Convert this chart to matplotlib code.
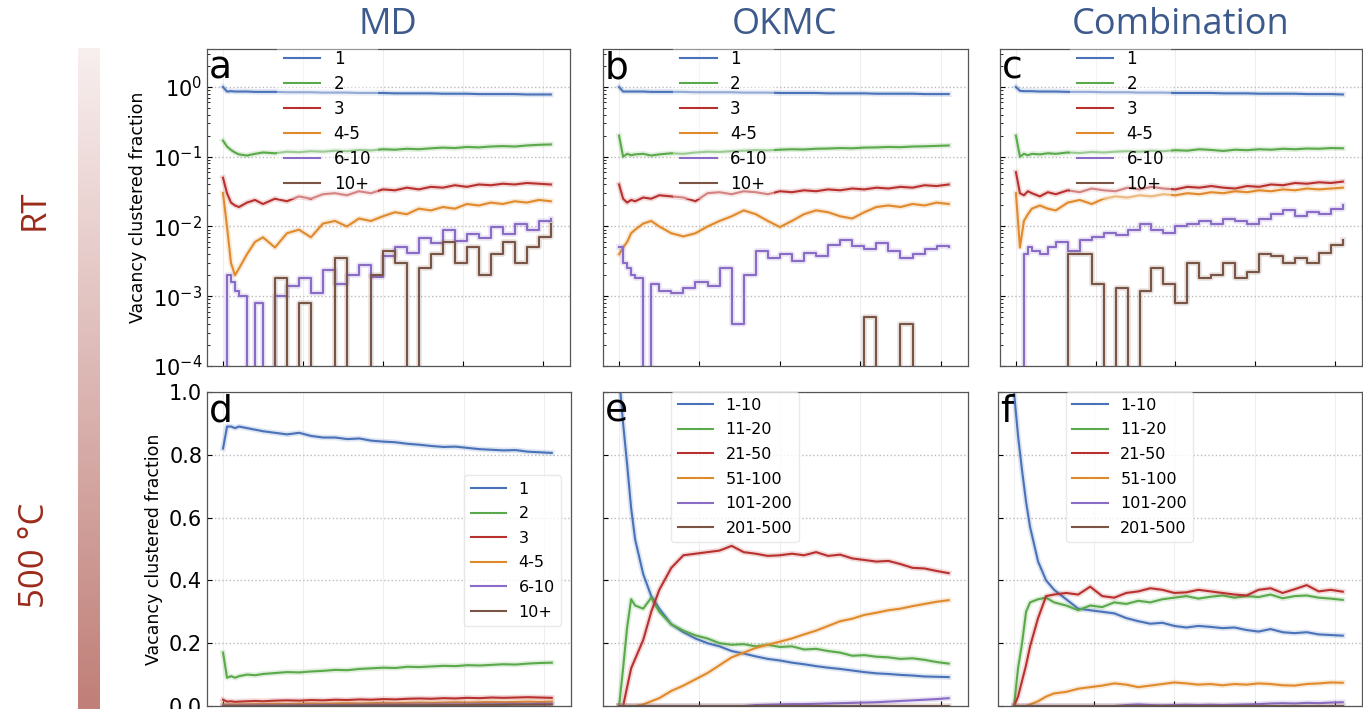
import numpy as np
import matplotlib
matplotlib.use('Agg')
import matplotlib.pyplot as plt
from matplotlib.colors import LinearSegmentedColormap

# time axis (arbitrary units, ticks hidden in the reference)
t = [0, 0.05, 0.1, 0.15, 0.2, 0.3, 0.4, 0.5,
     0.65, 0.8, 0.95, 1.1, 1.25, 1.4, 1.55, 1.7,
     1.85, 2.0, 2.15, 2.3, 2.45, 2.6, 2.75, 2.9,
     3.05, 3.2, 3.35, 3.5, 3.65, 3.8, 3.95, 4.1]

rt_labels = ['1', '2', '3', '4-5', '6-10', '10+']
hot_labels = ['1-10', '11-20', '21-50', '51-100', '101-200', '201-500']
colors = ['#4a72b8', '#5aa94a', '#b8312f', '#e08a2c', '#8a6cc7', '#7a5545']

# ---- a: MD, RT ----
a1 = [1.0, 0.86, 0.87, 0.86, 0.86, 0.86, 0.85, 0.85,
      0.85, 0.84, 0.84, 0.84, 0.83, 0.83, 0.83, 0.82,
      0.82, 0.82, 0.81, 0.81, 0.81, 0.81, 0.80, 0.80,
      0.80, 0.79, 0.79, 0.79, 0.79, 0.78, 0.78, 0.78]
a2 = [0.17, 0.14, 0.125, 0.115, 0.108, 0.104, 0.11, 0.115,
      0.112, 0.118, 0.116, 0.12, 0.118, 0.122, 0.12, 0.125,
      0.123, 0.128, 0.126, 0.13, 0.128, 0.132, 0.135, 0.133,
      0.138, 0.136, 0.14, 0.142, 0.14, 0.145, 0.148, 0.15]
a3 = [0.05, 0.03, 0.022, 0.02, 0.019, 0.022, 0.024, 0.021,
      0.025, 0.023, 0.027, 0.025, 0.029, 0.03, 0.028, 0.032,
      0.03, 0.034, 0.033, 0.036, 0.034, 0.037, 0.036, 0.039,
      0.037, 0.04, 0.039, 0.041, 0.04, 0.042, 0.041, 0.04]
a45 = [0.03, 0.01, 0.003, 0.002, 0.0025, 0.004, 0.006, 0.007,
       0.005, 0.008, 0.009, 0.007, 0.011, 0.012, 0.01, 0.013,
       0.012, 0.014, 0.016, 0.015, 0.018, 0.017, 0.019, 0.018,
       0.021, 0.02, 0.022, 0.021, 0.023, 0.022, 0.024, 0.023]
a610 = [0, 0.002, 0.0016, 0.0012, 0.001, 0, 0.0008, 0,
        0.001, 0.0014, 0.0018, 0.0011, 0.0024, 0.0015, 0.002, 0.0028,
        0.0019, 0.0038, 0.005, 0.0042, 0.0068, 0.0058, 0.0088, 0.0062,
        0.0079, 0.0068, 0.0098, 0.0078, 0.0108, 0.0088, 0.0118, 0.013]
a10p = [0, 0, 0, 0, 0, 0, 0, 0,
        0.0018, 0, 0.0008, 0, 0, 0.0035, 0, 0,
        0.002, 0.0045, 0.003, 0, 0.0025, 0.004, 0.006, 0.003,
        0.005, 0.002, 0.004, 0.006, 0.003, 0.005, 0.007, 0.011]

# ---- b: OKMC, RT ----
b1 = [1.0, 0.86, 0.86, 0.86, 0.86, 0.86, 0.85, 0.85,
      0.85, 0.85, 0.84, 0.84, 0.84, 0.84, 0.83, 0.83,
      0.83, 0.82, 0.82, 0.82, 0.82, 0.81, 0.81, 0.81,
      0.81, 0.80, 0.80, 0.80, 0.80, 0.79, 0.79, 0.79]
b2 = [0.2, 0.1, 0.11, 0.105, 0.108, 0.11, 0.104, 0.108,
      0.112, 0.11, 0.115, 0.118, 0.117, 0.12, 0.122, 0.124,
      0.123, 0.126, 0.128, 0.127, 0.13, 0.131, 0.133, 0.132,
      0.135, 0.136, 0.138, 0.137, 0.14, 0.141, 0.143, 0.145]
b3 = [0.04, 0.025, 0.022, 0.024, 0.023, 0.026, 0.025, 0.028,
      0.027, 0.026, 0.023, 0.03, 0.031, 0.029, 0.032, 0.031,
      0.029, 0.032, 0.031, 0.033, 0.032, 0.034, 0.033, 0.035,
      0.034, 0.036, 0.035, 0.037, 0.036, 0.039, 0.038, 0.04]
b45 = [0.004, 0.005, 0.006, 0.008, 0.009, 0.011, 0.012, 0.010,
       0.008, 0.0072, 0.008, 0.010, 0.012, 0.014, 0.017, 0.015,
       0.012, 0.0098, 0.012, 0.015, 0.017, 0.016, 0.014, 0.013,
       0.016, 0.019, 0.020, 0.019, 0.021, 0.020, 0.022, 0.021]
b610 = [0.005, 0.003, 0.0025, 0.002, 0.0018, 0, 0.0015, 0.0012,
        0.0011, 0.0013, 0.0016, 0.0014, 0.0025, 0.0004, 0.002, 0.0045,
        0.0035, 0.004, 0.0032, 0.0042, 0.0038, 0.0055, 0.0065, 0.0052,
        0.0048, 0.0058, 0.0045, 0.0035, 0.004, 0.0048, 0.0052, 0.005]
b10p = [0, 0, 0, 0, 0, 0, 0, 0,
        0, 0, 0, 0, 0, 0, 0, 0,
        0, 0, 0, 0, 0, 0, 0, 0,
        0.0005, 0, 0, 0.0004, 0, 0, 0, 0]

# ---- c: Combination, RT ----
c1 = [1.0, 0.88, 0.87, 0.87, 0.87, 0.86, 0.86, 0.86,
      0.85, 0.85, 0.85, 0.84, 0.84, 0.84, 0.83, 0.83,
      0.83, 0.82, 0.82, 0.82, 0.82, 0.81, 0.81, 0.81,
      0.80, 0.80, 0.80, 0.80, 0.79, 0.79, 0.79, 0.78]
c2 = [0.2, 0.1, 0.11, 0.105, 0.11, 0.108, 0.112, 0.11,
      0.115, 0.113, 0.117, 0.115, 0.118, 0.12, 0.118, 0.122,
      0.12, 0.124, 0.122, 0.128, 0.125, 0.121, 0.126, 0.124,
      0.128, 0.126, 0.13, 0.128, 0.131, 0.13, 0.133, 0.132]
c3 = [0.06, 0.03, 0.028, 0.032, 0.03, 0.027, 0.031, 0.029,
      0.033, 0.031, 0.035, 0.033, 0.032, 0.036, 0.034, 0.037,
      0.035, 0.034, 0.037, 0.036, 0.038, 0.036, 0.035, 0.038,
      0.037, 0.04, 0.039, 0.042, 0.041, 0.043, 0.042, 0.044]
c45 = [0.03, 0.005, 0.012, 0.015, 0.018, 0.02, 0.018, 0.017,
       0.022, 0.024, 0.021, 0.025, 0.027, 0.026, 0.028, 0.027,
       0.029, 0.028, 0.03, 0.029, 0.031, 0.03, 0.032, 0.031,
       0.033, 0.032, 0.034, 0.033, 0.035, 0.034, 0.035, 0.036]
c610 = [0, 0, 0.004, 0.005, 0.0045, 0.004, 0.005, 0.006,
        0.0045, 0.0065, 0.007, 0.008, 0.0075, 0.009, 0.011, 0.009,
        0.008, 0.01, 0.011, 0.012, 0.011, 0.013, 0.012, 0.011,
        0.013, 0.015, 0.017, 0.014, 0.016, 0.015, 0.018, 0.02]
c10p = [0, 0, 0, 0, 0, 0, 0, 0,
        0.004, 0.004, 0.0015, 0, 0.0013, 0, 0.0012, 0.0025,
        0.0015, 0.0008, 0.003, 0.0018, 0.002, 0.003, 0.0018, 0.0022,
        0.004, 0.0038, 0.003, 0.0035, 0.003, 0.0042, 0.0055, 0.0065]

# ---- d: MD, 500 C ----
d1 = [0.82, 0.89, 0.89, 0.885, 0.89, 0.885, 0.88, 0.875,
      0.87, 0.865, 0.87, 0.86, 0.855, 0.855, 0.85, 0.852,
      0.845, 0.842, 0.84, 0.835, 0.832, 0.828, 0.825, 0.826,
      0.822, 0.818, 0.816, 0.814, 0.815, 0.81, 0.808, 0.806]
d2 = [0.17, 0.09, 0.095, 0.09, 0.095, 0.1, 0.098, 0.102,
      0.105, 0.108, 0.107, 0.11, 0.112, 0.115, 0.114, 0.118,
      0.12, 0.122, 0.121, 0.125, 0.124, 0.126, 0.128, 0.127,
      0.13, 0.129, 0.131, 0.133, 0.132, 0.135, 0.137, 0.138]
d3 = [0.02, 0.014, 0.015, 0.013, 0.014, 0.015, 0.016, 0.015,
      0.017, 0.018, 0.017, 0.019, 0.018, 0.02, 0.019, 0.021,
      0.02, 0.022, 0.021, 0.023, 0.024, 0.023, 0.025, 0.024,
      0.026, 0.025, 0.027, 0.026, 0.027, 0.028, 0.027, 0.026]
d45 = [0.005, 0.004, 0.005, 0.004, 0.005, 0.005, 0.006, 0.006,
       0.007, 0.006, 0.007, 0.008, 0.007, 0.008, 0.009, 0.008,
       0.009, 0.01, 0.009, 0.01, 0.011, 0.01, 0.011, 0.012,
       0.011, 0.012, 0.013, 0.012, 0.013, 0.014, 0.013, 0.014]
d610 = [0.002, 0.001, 0.001, 0.001, 0.001, 0.0015, 0.0015, 0.002,
        0.002, 0.002, 0.0025, 0.0025, 0.003, 0.003, 0.003, 0.0035,
        0.0035, 0.004, 0.004, 0.004, 0.0045, 0.0045, 0.005, 0.005,
        0.005, 0.0055, 0.0055, 0.006, 0.006, 0.006, 0.0065, 0.0065]
d10p = [0, 0, 0, 0, 0, 0, 0, 0,
        0.0005, 0.0005, 0.001, 0.001, 0.001, 0.0015, 0.0015, 0.0015,
        0.002, 0.002, 0.002, 0.0025, 0.0025, 0.0025, 0.003, 0.003,
        0.003, 0.0035, 0.0035, 0.0035, 0.004, 0.004, 0.004, 0.0045]

# ---- e: OKMC, 500 C ----
e1 = [1.05, 0.9, 0.77, 0.63, 0.53, 0.42, 0.35, 0.31,
      0.26, 0.235, 0.215, 0.2, 0.19, 0.175, 0.167, 0.158,
      0.15, 0.145, 0.138, 0.133, 0.127, 0.122, 0.118, 0.113,
      0.108, 0.104, 0.102, 0.099, 0.097, 0.094, 0.093, 0.092]
e2 = [0, 0.12, 0.25, 0.34, 0.32, 0.31, 0.345, 0.3,
      0.26, 0.24, 0.225, 0.215, 0.2, 0.195, 0.197, 0.19,
      0.195, 0.188, 0.19, 0.18, 0.182, 0.175, 0.17, 0.16,
      0.162, 0.157, 0.155, 0.15, 0.152, 0.147, 0.14, 0.135]
e3 = [0, 0, 0.06, 0.12, 0.15, 0.21, 0.3, 0.37,
      0.44, 0.48, 0.485, 0.49, 0.495, 0.51, 0.49, 0.485,
      0.478, 0.48, 0.485, 0.48, 0.49, 0.478, 0.482, 0.47,
      0.465, 0.46, 0.462, 0.452, 0.44, 0.438, 0.43, 0.423]
e4 = [0, 0, 0, 0, 0, 0.005, 0.015, 0.025,
      0.048, 0.065, 0.085, 0.105, 0.13, 0.155, 0.17, 0.185,
      0.195, 0.205, 0.215, 0.228, 0.24, 0.255, 0.27, 0.278,
      0.29, 0.297, 0.305, 0.31, 0.318, 0.325, 0.332, 0.337]
e5 = [0, 0, 0, 0, 0, 0, 0, 0,
      0, 0, 0, 0, 0, 0, 0, 0.003,
      0.004, 0.005, 0.006, 0.006, 0.007, 0.008, 0.009, 0.01,
      0.011, 0.012, 0.014, 0.016, 0.018, 0.02, 0.022, 0.025]
e6 = [0] * 32

# ---- f: Combination, 500 C ----
f1 = [1.0, 0.86, 0.75, 0.65, 0.57, 0.46, 0.4, 0.37,
      0.34, 0.31, 0.305, 0.3, 0.295, 0.28, 0.27, 0.262,
      0.265, 0.255, 0.25, 0.255, 0.252, 0.248, 0.25, 0.242,
      0.237, 0.245, 0.235, 0.232, 0.235, 0.228, 0.226, 0.224]
f2 = [0, 0.12, 0.2, 0.3, 0.33, 0.34, 0.345, 0.33,
      0.32, 0.305, 0.32, 0.315, 0.33, 0.325, 0.335, 0.33,
      0.34, 0.345, 0.35, 0.342, 0.348, 0.352, 0.345, 0.35,
      0.347, 0.355, 0.343, 0.35, 0.352, 0.345, 0.342, 0.338]
f3 = [0, 0.03, 0.08, 0.13, 0.19, 0.28, 0.35, 0.355,
      0.36, 0.355, 0.38, 0.35, 0.345, 0.36, 0.365, 0.375,
      0.37, 0.36, 0.362, 0.37, 0.365, 0.36, 0.355, 0.352,
      0.37, 0.375, 0.36, 0.372, 0.385, 0.365, 0.37, 0.364]
f4 = [0, 0, 0, 0, 0.005, 0.015, 0.03, 0.04,
      0.045, 0.055, 0.06, 0.065, 0.072, 0.068, 0.06, 0.065,
      0.07, 0.075, 0.072, 0.068, 0.07, 0.066, 0.07, 0.068,
      0.072, 0.07, 0.066, 0.065, 0.07, 0.072, 0.075, 0.074]
f5 = [0, 0, 0, 0, 0, 0, 0, 0,
      0, 0, 0, 0, 0, 0.003, 0.005, 0.003,
      0.002, 0.003, 0.004, 0.003, 0.004, 0.003, 0.004, 0.005,
      0.006, 0.008, 0.009, 0.008, 0.01, 0.009, 0.011, 0.012]
f6 = [0] * 32

W, H = 1363, 709
fig = plt.figure(figsize=(W / 100, H / 100), dpi=100)


def px_rect(x0, y0, x1, y1):
    return [x0 / W, 1 - y1 / H, (x1 - x0) / W, (y1 - y0) / H]


def draw(ax, series, labels, steps=False):
    for i, (y, lab) in enumerate(zip(series, labels)):
        ds = 'steps-post' if (steps and i >= 4) else 'default'
        ax.plot(t, y, color=colors[i], lw=4, alpha=0.18, drawstyle=ds)
        ax.plot(t, y, color=colors[i], lw=1.5, label=lab, drawstyle=ds)
    ax.set_xlim(-0.2, 4.34)
    ax.set_xticks([0, 1, 2, 3, 4])
    ax.tick_params(axis='x', labelbottom=False, direction='in')
    ax.tick_params(axis='y', which='both', direction='in', labelsize=15)
    ax.grid(axis='y', which='major', ls=':', color='#bbbbbb', lw=1)
    ax.grid(axis='x', ls='-', color='#eeeeee', lw=0.8)
    for s in ax.spines.values():
        s.set_color('#555555')
        s.set_linewidth(0.9)


top = [(207, 570, [a1, a2, a3, a45, a610, a10p], 'a'),
       (603, 968, [b1, b2, b3, b45, b610, b10p], 'b'),
       (1000, 1362, [c1, c2, c3, c45, c610, c10p], 'c')]
bottom = [(207, 571, [d1, d2, d3, d45, d610, d10p], rt_labels, 'd'),
          (603, 968, [e1, e2, e3, e4, e5, e6], hot_labels, 'e'),
          (998, 1362, [f1, f2, f3, f4, f5, f6], hot_labels, 'f')]

for k, (x0, x1, series, letter) in enumerate(top):
    ax = fig.add_axes(px_rect(x0, 49, x1, 366))
    ax.set_yscale('log')
    draw(ax, series, rt_labels, steps=True)
    ax.set_ylim(1e-4, 3.5)
    if k == 0:
        ax.set_ylabel('Vacancy clustered fraction', fontsize=12.5)
    else:
        ax.tick_params(axis='y', which='both', labelleft=False)
    ax.legend(loc='upper left', bbox_to_anchor=(0.17, 1.045), fontsize=12,
              handlelength=2.2, labelspacing=0.42, frameon=True,
              framealpha=0.4, edgecolor='none', facecolor='white')
    ax.text(0.005, 0.995, letter, transform=ax.transAxes, fontsize=27,
            va='top', ha='left')

for k, (x0, x1, series, labels, letter) in enumerate(bottom):
    ax = fig.add_axes(px_rect(x0, 392, x1, 706))
    draw(ax, series, labels)
    ax.set_ylim(0, 1.0)
    ax.set_yticks([0, 0.2, 0.4, 0.6, 0.8, 1.0])
    if k == 0:
        ax.set_ylabel('Vacancy clustered fraction', fontsize=12.5)
        ax.legend(loc='upper right', bbox_to_anchor=(0.995, 0.76), fontsize=11.5,
                  handlelength=2.2, labelspacing=0.6, framealpha=0.8,
                  edgecolor='#e4e4e4')
    else:
        ax.tick_params(axis='y', labelleft=False)
        ax.legend(loc='upper left', bbox_to_anchor=(0.165, 1.027), fontsize=11.5,
                  handlelength=2.2, labelspacing=0.6, framealpha=0.8,
                  edgecolor='#e4e4e4')
    ax.text(0.005, 0.995, letter, transform=ax.transAxes, fontsize=27,
            va='top', ha='left')

# column titles
for x, s in [(388, 'MD'), (785, 'OKMC'), (1181, 'Combination')]:
    fig.text(x / W, 1 - 25 / H, s, ha='center', va='center', fontsize=26,
             color='#3d5a8c', family='Open Sans')

# row labels
for y, s in [(210, 'RT'), (555, '500 °C')]:
    fig.text(35 / W, 1 - y / H, s, ha='center', va='center', fontsize=25,
             rotation=90, color='#9b2a1a', family='Open Sans')

# vertical gradient bar
cmap = LinearSegmentedColormap.from_list('bar', ['#f8efef', '#c07f78'])
bar = fig.add_axes(px_rect(78, 48, 100, 709))
bar.imshow(np.linspace(0, 1, 256).reshape(-1, 1), cmap=cmap, aspect='auto')
bar.axis('off')

fig.savefig('out.png', dpi=100)
